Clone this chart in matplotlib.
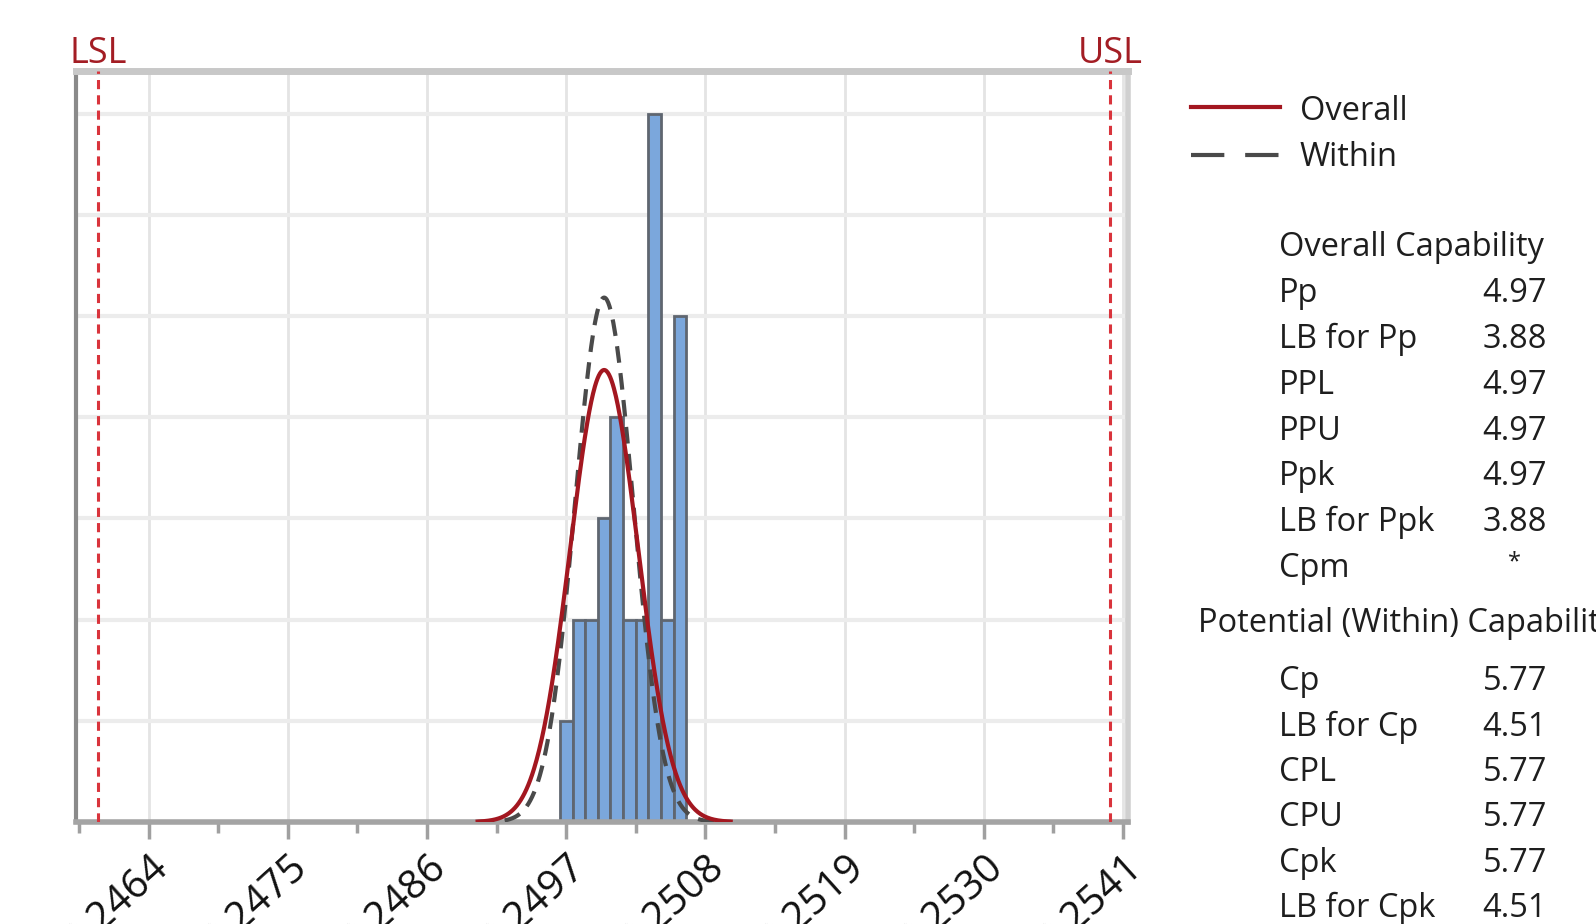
import numpy as np
import matplotlib
matplotlib.use("Agg")
import matplotlib.pyplot as plt
from matplotlib.lines import Line2D

# 数据
bin_centers = [0.2497, 0.2498, 0.2499, 0.2500, 0.2501, 0.2502, 0.2503, 0.2504, 0.2505, 0.2506]
counts = [1, 2, 2, 3, 4, 2, 2, 7, 2, 5]
bin_width = 0.0001
lsl, usl = 0.2460, 0.2540
mean = 0.2500
sd_overall = 0.000268
sd_within = 0.000231
x_ticks = [0.2464, 0.2475, 0.2486, 0.2497, 0.2508, 0.2519, 0.2530, 0.2541]

overall_names = ["Pp", "LB for Pp", "PPL", "PPU", "Ppk", "LB for Ppk", "Cpm"]
overall_vals = ["4.97", "3.88", "4.97", "4.97", "4.97", "3.88", "*"]
within_names = ["Cp", "LB for Cp", "CPL", "CPU", "Cpk", "LB for Cpk"]
within_vals = ["5.77", "4.51", "5.77", "5.77", "5.77", "4.51"]

plt.rcParams['font.family'] = ['Open Sans', 'DejaVu Sans']
W, H = 1596, 924
fig = plt.figure(figsize=(W / 100, H / 100), dpi=100)


def fx(px):
    return px / W


def fy(py):
    return 1 - py / H


ax = fig.add_axes([fx(76), fy(822), fx(1128) - fx(76), fy(71) - fy(822)])
ax.set_xlim(0.245826, 0.25414)
ax.set_ylim(0, 7.42)

# 网格
for t in x_ticks:
    ax.axvline(t, color='#e4e4e4', lw=2, zorder=0)
for k in range(1, 8):
    ax.axhline(k, color='#ececec', lw=3, zorder=0)

# 直方图
ax.bar(bin_centers, counts, width=bin_width, color='#7ba7dc', edgecolor='#5f6670', lw=2, zorder=2)

# 正态曲线
xs = np.linspace(0.24900, 0.25100, 400)
scale = sum(counts) * bin_width
y_over = scale / (sd_overall * np.sqrt(2 * np.pi)) * np.exp(-0.5 * ((xs - mean) / sd_overall) ** 2)
y_with = scale / (sd_within * np.sqrt(2 * np.pi)) * np.exp(-0.5 * ((xs - mean) / sd_within) ** 2)
ax.plot(xs, y_with, color='#4a4a4a', lw=3, ls=(0, (4, 2.5)), zorder=3)
ax.plot(xs, y_over, color='#a31720', lw=3, zorder=4)

# 规格线
for v, name in [(lsl, "LSL"), (usl, "USL")]:
    ax.axvline(v, color='#d9343c', lw=2.2, ls=(0, (3, 2)), zorder=5)
    fig.text(ax.transData.transform((v, 0))[0] / W, fy(63), name, color='#a31d24',
             fontsize=26, ha='center', va='baseline')

# 坐标轴
ax.spines['left'].set_color('#8a8a8a')
ax.spines['left'].set_linewidth(3)
ax.spines['bottom'].set_color('#a4a4a4')
ax.spines['bottom'].set_linewidth(4)
ax.spines['top'].set_color('#c8c8c8')
ax.spines['top'].set_linewidth(5)
ax.spines['right'].set_color('#d0d0d0')
ax.spines['right'].set_linewidth(4)
ax.set_yticks([])
ax.set_xticks(x_ticks)
ax.set_xticks([t + 0.00055 for t in x_ticks[:-1]] + [x_ticks[0] - 0.00055], minor=True)
ax.set_xticklabels([f"{t:.4f}" for t in x_ticks], rotation=42, ha='right', va='top',
                   rotation_mode='anchor', fontsize=29, color='#111111')
ax.tick_params(axis='x', which='major', length=12, width=2.5, color='#a0a0a0', pad=6)
ax.tick_params(axis='x', which='minor', length=8, width=2.5, color='#a0a0a0')

# 图例
fig.add_artist(Line2D([fx(1191), fx(1280)], [fy(107), fy(107)], color='#a31720', lw=3))
fig.add_artist(Line2D([fx(1191), fx(1280)], [fy(155), fy(155)], color='#4a4a4a', lw=3,
                      ls=(0, (8, 5))))
txt = dict(fontsize=23.5, color='#1e1e1e', va='center')
fig.text(fx(1300), fy(112), "Overall", **txt)
fig.text(fx(1300), fy(158), "Within", **txt)

# 统计表
val_x = 1547


def put_value(v, y):
    if v == "*":
        fig.text(fx(1514), fy(y - 6), v, ha='center', fontsize=17, color='#1e1e1e', va='center')
    else:
        fig.text(fx(val_x), fy(y), v, ha='right', **txt)


fig.text(fx(1279), fy(247), "Overall Capability", **txt)
for i, (n, v) in enumerate(zip(overall_names, overall_vals)):
    y = 294 + i * 45.7
    fig.text(fx(1279), fy(y), n, **txt)
    put_value(v, y)
fig.text(fx(1198), fy(624), "Potential (Within) Capability", **txt)
for i, (n, v) in enumerate(zip(within_names, within_vals)):
    y = 682 + i * 45.3
    fig.text(fx(1279), fy(y), n, **txt)
    put_value(v, y)

fig.savefig("out.png", dpi=100)
